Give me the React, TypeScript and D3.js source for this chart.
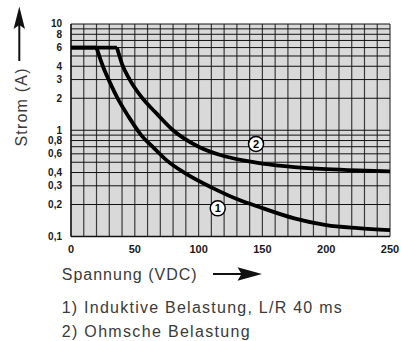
import * as d3 from 'd3'

// axis ticks
const xTicks = [0, 50, 100, 150, 200, 250]
const yTickValues = [10, 8, 6, 4, 3, 2, 1, 0.8, 0.6, 0.4, 0.3, 0.2, 0.1]
const yTickLabels = ['10', '8', '6', '4', '3', '2', '1', '0,8', '0,6', '0,4', '0,3', '0,2', '0,1']

// curve 1: inductive load, L/R 40 ms
const c1Volt = [0, 20, 25, 30, 37, 45, 55, 65, 75, 90, 110, 130, 150, 175, 200, 225, 250]
const c1Amp = [6, 6, 4.0, 2.9, 1.95, 1.35, 0.9, 0.68, 0.52, 0.39, 0.29, 0.225, 0.185, 0.148, 0.128, 0.12, 0.115]

// curve 2: resistive load
const c2Volt = [0, 36, 40, 46, 55, 67, 80, 100, 117, 135, 150, 175, 200, 225, 250]
const c2Amp = [6, 6, 4.2, 3.0, 2.07, 1.44, 1.0, 0.7, 0.585, 0.52, 0.485, 0.45, 0.43, 0.418, 0.41]

// curve markers
const markerNames = ['1', '2']
const markerVolt = [115, 145]
const markerAmp = [0.184, 0.743]

const notes = ['1) Induktive Belastung, L/R 40 ms', '2) Ohmsche Belastung']

export default function App() {
  const W = 401
  const H = 341
  const x = d3.scaleLinear().domain([0, 250]).range([71, 390])
  const y = d3.scaleLog().domain([0.1, 10]).range([236.5, 24])

  const gridX = d3.range(0, 251, 10)
  const gridY: number[] = []
  ;[0.1, 1].forEach((d) => {
    for (let k = 1; k < 10; k++) gridY.push(d * k)
  })
  gridY.push(10)

  const line = d3
    .line<[number, number]>()
    .x((d) => x(d[0]))
    .y((d) => y(d[1]))

  const curvePaths = [
    { v: c1Volt, a: c1Amp },
    { v: c2Volt, a: c2Amp },
  ].map(({ v, a }) => {
    const pts = v.map((vv, i) => [vv, a[i]] as [number, number])
    const flat = line.curve(d3.curveLinear)(pts.slice(0, 2)) || ''
    const tail = line.curve(d3.curveMonotoneX)(pts.slice(1)) || ''
    return flat + tail
  })

  const font = '"Liberation Sans", Arial, Helvetica, sans-serif'

  return (
    <svg
      width={W}
      height={H}
      viewBox={`0 0 ${W} ${H}`}
      style={{ position: 'absolute', left: 0, top: 0, background: '#fff' }}
    >
      <rect x={x(0)} y={y(10)} width={x(250) - x(0)} height={y(0.1) - y(10)} fill="#d9d9d9" />

      {gridX.map((v) => (
        <line key={'gx' + v} x1={x(v)} x2={x(v)} y1={y(10)} y2={y(0.1)} stroke="#3a3a3a" strokeWidth={1.2} />
      ))}
      {gridY.map((v, i) => (
        <line key={'gy' + i} x1={x(0)} x2={x(250)} y1={y(v)} y2={y(v)} stroke="#111" strokeWidth={1} />
      ))}
      <line x1={x(0)} x2={x(0)} y1={y(10)} y2={y(0.1)} stroke="#111" strokeWidth={1.3} />
      <line x1={x(0)} x2={x(250)} y1={y(0.1)} y2={y(0.1)} stroke="#111" strokeWidth={1.3} />

      {curvePaths.map((d, i) => (
        <path key={'c' + i} d={d} fill="none" stroke="#000" strokeWidth={3.8} strokeLinejoin="miter" />
      ))}

      {markerNames.map((m, i) => (
        <g key={'m' + m} transform={`translate(${x(markerVolt[i])},${y(markerAmp[i])})`}>
          <circle r={7.5} fill="#fff" stroke="#000" strokeWidth={1.5} />
          <text
            textAnchor="middle"
            dy="0.36em"
            fontFamily={font}
            fontWeight="bold"
            fontSize={11}
            fill="#000"
          >
            {m}
          </text>
        </g>
      ))}

      {yTickValues.map((v, i) => (
        <text
          key={'yt' + i}
          x={62}
          y={y(v) + (v === 10 ? -1 : 0)}
          dy="0.36em"
          textAnchor="end"
          fontFamily={font}
          fontWeight="bold"
          fontSize={10}
          fill="#1a1a1a"
        >
          {yTickLabels[i]}
        </text>
      ))}
      {xTicks.map((v) => (
        <text
          key={'xt' + v}
          x={x(v)}
          y={249}
          dy="0.36em"
          textAnchor="middle"
          fontFamily={font}
          fontWeight="bold"
          fontSize={11}
          fill="#1a1a1a"
        >
          {v}
        </text>
      ))}

      {/* y axis title + arrow */}
      <text
        transform="translate(26.5,107.5) rotate(-90)"
        textAnchor="middle"
        fontFamily={font}
        fontSize={16}
        fill="#3a3a3a"
        textLength={78}
        lengthAdjust="spacing"
      >
        Strom (A)
      </text>
      <line x1={19.3} x2={19.3} y1={61} y2={22} stroke="#111" strokeWidth={2} />
      <path d="M19.3,6.5 L25,29 L19.3,25 L13.6,29 Z" fill="#111" />

      {/* x axis title + arrow */}
      <text
        x={61.7}
        y={279.5}
        fontFamily={font}
        fontSize={16}
        fill="#3a3a3a"
        textLength={135}
        lengthAdjust="spacing"
      >
        Spannung (VDC)
      </text>
      <line x1={213} x2={245} y1={274} y2={274} stroke="#111" strokeWidth={2} />
      <path d="M262,274 L237.5,267.3 L241.5,274 L237.5,280.7 Z" fill="#111" />

      {notes.map((n, i) => (
        <text
          key={'n' + i}
          x={61.7}
          y={312.5 + i * 24}
          fontFamily={font}
          fontSize={16}
          fill="#3a3a3a"
          textLength={i === 0 ? 280 : 188}
          lengthAdjust="spacing"
        >
          {n}
        </text>
      ))}
    </svg>
  )
}
